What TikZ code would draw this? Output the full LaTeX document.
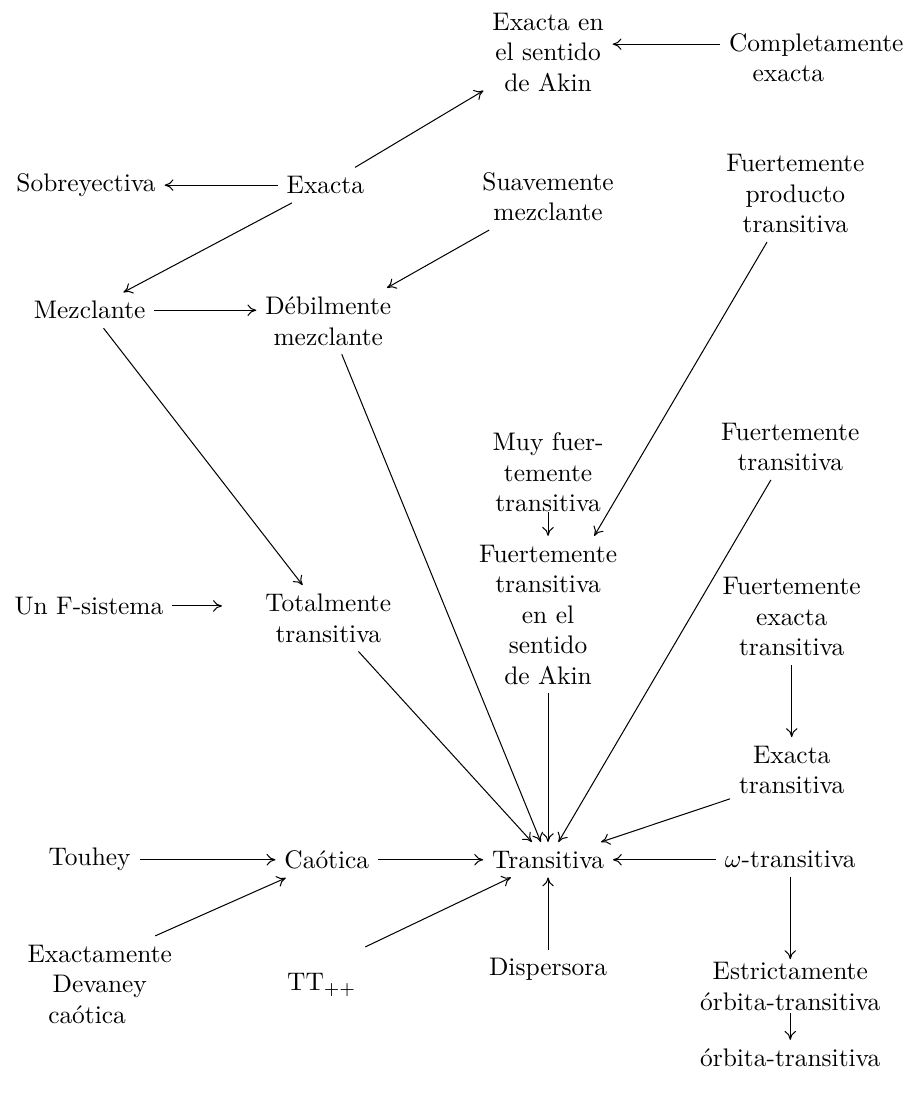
\documentclass[tikz,border=0pt]{standalone}
\usepackage{amsfonts,amssymb,amsmath}
\usepackage{tikz}
\usetikzlibrary{calc,positioning,arrows.meta}

\begin{document}
\begin{tikzpicture}[scale=1.0, every node/.style={align=center}, >={To[length=3.5pt,width=4.5pt]}]
\useasboundingbox (0,0) rectangle (12.545,15.131);
\node (akin) at (7.58,14.41){Exacta en\\el sentido\\de Akin};
\node (comp) at (11.29,14.33){Completamente\\exacta\hspace*{22pt}};
\node (sob) at (1.19,12.57){Sobreyectiva};
\node (exacta) at (4.50,12.57){Exacta};
\node (suav) at (7.58,12.41){Suavemente\\mezclante};
\node (fprod) at (11.00,12.45){Fuertemente\\producto\\transitiva};
\node (mez) at (1.24,10.84){Mezclante};
\node (deb) at (4.54,10.69){Débilmente\\mezclante};
\node[inner ysep=0pt] (muy) at (7.58,8.60){Muy fuer-\\temente\\transitiva};
\node (ftran) at (10.93,8.95){Fuertemente\\transitiva};
\node (fakin) at (7.58,6.63){Fuertemente\\transitiva\\en el\\sentido\\de Akin};
\node (fexact) at (10.95,6.60){Fuertemente\\exacta\\transitiva};
\node (fsis) at (1.23,6.75){Un F-sistema};
\coordinate (fsisend) at (3.07,6.75);
\node (total) at (4.54,6.58){Totalmente\\transitiva};
\node (extr) at (10.95,4.48){Exacta\\transitiva};
\node (touhey) at (1.24,3.24){Touhey};
\node (cao) at (4.52,3.24){Caótica};
\node (trans) at (7.58,3.24){Transitiva};
\node (omega) at (10.93,3.24){$\omega$-transitiva};
\node (exdev) at (1.38,1.52){Exactamente\\Devaney\hspace*{10pt}\\caótica\hspace*{10pt}};
\node (tt) at (4.45,1.51){TT$_{++}$};
\node (disp) at (7.58,1.72){Dispersora};
\node[inner ysep=1pt] (estr) at (10.93,1.49){Estrictamente\\órbita-transitiva};
\node (orb) at (10.93,0.50){órbita-transitiva};
\draw[->] ([yshift=0.19cm]comp.west) -- ([yshift=0.19cm]comp.west -| akin.east);
\draw[->] (exacta) -- (akin);
\draw[->] (exacta) -- (sob);
\draw[->] (exacta) -- (mez);
\draw[->] (suav) -- (deb);
\draw[->] (fprod) -- (fakin);
\draw[->] (mez) -- (mez -| deb.west);
\draw[->] (mez) -- (total);
\draw[->] (deb) -- (trans);
\draw[->] (muy) -- (fakin);
\draw[->] (ftran) -- (trans);
\draw[->] (fexact) -- (extr);
\draw[->] (fsis) -- (fsisend);
\draw[->] (total) -- (trans);
\draw[->] (fakin) -- (trans);
\draw[->] (extr.205) -- (trans);
\draw[->] (touhey) -- (cao);
\draw[->] (cao) -- (trans);
\draw[->] (omega) -- (trans);
\draw[->] (exdev.41) -- (cao);
\draw[->] ([yshift=0.24cm]tt.north east) -- (trans);
\draw[->] (disp) -- (trans);
\draw[->] (omega) -- (estr);
\draw[->] (estr) -- (orb);
\end{tikzpicture}
\end{document}
